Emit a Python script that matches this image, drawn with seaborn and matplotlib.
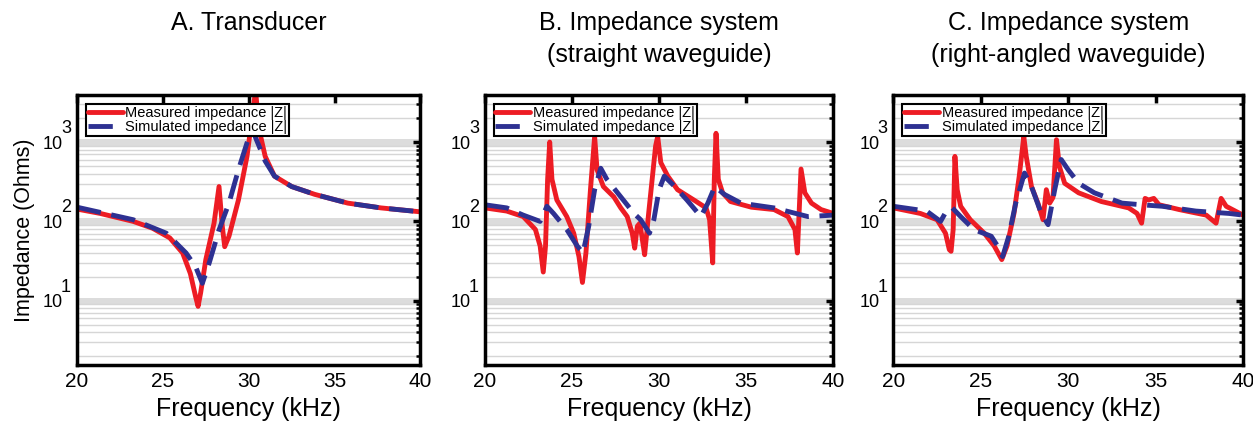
import numpy as np
import pandas as pd
import seaborn as sns
import matplotlib.pyplot as plt
from matplotlib.ticker import LogLocator, FuncFormatter, NullFormatter, MultipleLocator

# --- data (frequency in kHz, |Z| in Ohms) ---
freq_a_meas = [20.0, 21.35, 23.27, 24.4, 25.4, 26.15, 26.6, 26.9, 27.05, 27.2, 27.5, 27.98, 28.27,
               28.46, 28.6, 28.85, 29.4, 29.9, 30.2, 30.4, 30.6, 30.96, 31.5, 32.5, 33.85, 35.77, 37.7, 40.0]
z_a_meas = [143, 126, 100, 82, 62, 40, 22, 11.4, 8.5, 12.6, 33, 95, 275,
            87, 48, 65, 186, 660, 2090, 4470, 1450, 660, 372, 275, 219, 170, 148, 132]
freq_a_sim = [20.0, 23.27, 25.2, 26.35, 26.9, 27.3, 27.7, 28.27, 28.85, 29.4, 29.9, 30.2, 30.6,
              30.96, 31.5, 32.5, 33.85, 35.77, 37.7, 40.0]
z_a_sim = [151, 105, 71, 40, 27, 16.6, 30, 78, 170, 447, 977, 1445, 891,
           575, 372, 275, 219, 170, 148, 132]

freq_b_meas = [20.0, 21.25, 22.2, 22.9, 23.17, 23.35, 23.48, 23.6, 23.72, 23.85, 24.13, 24.7, 25.1,
               25.4, 25.6, 25.8, 26.06, 26.3, 26.44, 26.8, 27.4, 27.8, 28.17, 28.46, 28.6, 28.75,
               28.9, 29.04, 29.17, 29.4, 29.8, 29.92, 30.1, 30.5, 31.06, 32.0, 32.7, 32.9, 33.08,
               33.17, 33.27, 33.4, 33.65, 34.1, 35.3, 36.6, 37.4, 37.8, 37.94, 38.08, 38.15, 38.37,
               38.75, 39.3, 40.0]
z_b_meas = [148, 135, 115, 79, 49, 23, 49, 339, 1000, 339, 186, 115, 71,
            36, 17, 40, 251, 1175, 447, 275, 204, 148, 115, 71, 46, 87,
            95, 59, 38, 126, 891, 1175, 550, 372, 251, 186, 148, 105, 30,
            339, 1290, 339, 229, 178, 151, 141, 115, 79, 40, 204, 457, 229,
            170, 141, 126]
freq_b_sim = [20.0, 21.25, 22.2, 23.17, 23.56, 23.94, 24.7, 25.3, 25.63, 25.96, 26.3, 26.65, 27.0,
              27.8, 28.56, 28.94, 29.45, 29.7, 30.0, 30.3, 30.9, 31.6, 32.4, 32.8, 33.2, 33.75,
              34.7, 36.6, 38.55, 40.0]
z_b_sim = [162, 148, 120, 100, 155, 126, 79, 49, 40, 87, 251, 468, 339,
           204, 126, 105, 71, 105, 251, 372, 275, 186, 115, 170, 275, 219,
           170, 148, 115, 120]

freq_c_meas = [20.0, 21.54, 22.5, 22.98, 23.2, 23.3, 23.42, 23.52, 23.65, 23.85, 24.4, 25.2, 25.77,
               26.2, 26.5, 26.9, 27.2, 27.46, 27.6, 27.9, 28.27, 28.56, 28.75, 28.94, 29.13, 29.33,
               29.5, 29.8, 30.6, 31.9, 33.46, 33.94, 34.2, 34.4, 34.6, 34.9, 35.2, 36.35, 37.9,
               38.46, 38.75, 39.04, 40.0]
z_c_meas = [148, 126, 105, 71, 44, 42, 79, 660, 251, 155, 105, 71, 49,
            33, 49, 126, 372, 1175, 660, 275, 170, 105, 251, 170, 200, 1070,
            490, 302, 229, 178, 148, 126, 95, 195, 186, 195, 162, 141, 120,
            95, 195, 155, 120]
freq_c_sim = [20.0, 21.9, 22.7, 23.08, 23.37, 23.85, 24.6, 25.6, 25.96, 26.25, 26.6, 27.0, 27.5,
              27.9, 28.46, 28.85, 29.23, 29.6, 30.0, 30.6, 31.5, 33.08, 34.2, 35.4, 37.3, 39.2, 40.0]
z_c_sim = [155, 135, 100, 141, 148, 115, 79, 65, 49, 36, 65, 170, 407,
           275, 126, 91, 251, 603, 447, 302, 229, 170, 162, 155, 135, 126, 120]

titles = ["A. Transducer", "B. Impedance system\n(straight waveguide)",
          "C. Impedance system\n(right-angled waveguide)"]
decades = [1, 2, 3]
series = [(freq_a_meas, z_a_meas, freq_a_sim, z_a_sim),
          (freq_b_meas, z_b_meas, freq_b_sim, z_b_sim),
          (freq_c_meas, z_c_meas, freq_c_sim, z_c_sim)]

sns.set_style("white")
plt.rcParams['font.family'] = ['Liberation Sans', 'DejaVu Sans']
for key in ['text.color', 'axes.labelcolor', 'xtick.color', 'ytick.color']:
    plt.rcParams[key] = 'black'

red = '#ed1c24'
blue = '#2e3192'

fig = plt.figure(figsize=(12.53, 4.21), dpi=100)
lefts = [0.0615, 0.387, 0.713]
widths = [0.274, 0.278, 0.279]

for i, (fm, zm, fs, zs) in enumerate(series):
    ax = fig.add_axes([lefts[i], 0.133, widths[i], 0.641])
    meas = pd.DataFrame({"freq": fm, "z": zm})
    sim = pd.DataFrame({"freq": fs, "z": zs})
    sns.lineplot(data=meas, x="freq", y="z", ax=ax, color=red, linewidth=3.5,
                 label="Measured impedance |Z|", estimator=None, sort=False,
                 solid_joinstyle='round', solid_capstyle='round')
    sns.lineplot(data=sim, x="freq", y="z", ax=ax, color=blue, linewidth=3.5,
                 linestyle=(0, (5, 2.2)), label="Simulated impedance |Z|",
                 estimator=None, sort=False, dash_joinstyle='round')
    ax.set_yscale('log')
    ax.set_xlim(20, 40)
    ax.set_ylim(1.55, 3900)
    ax.xaxis.set_major_locator(MultipleLocator(5))
    ax.yaxis.set_major_locator(LogLocator(base=10))
    ax.yaxis.set_major_formatter(FuncFormatter(lambda v, p: "10"))
    ax.yaxis.set_minor_locator(LogLocator(base=10, subs=np.arange(2, 10)))
    ax.yaxis.set_minor_formatter(NullFormatter())

    ax.grid(True, which='major', axis='y', color='#dcdcdc', linewidth=5, zorder=0)
    ax.grid(True, which='minor', axis='y', color='#d6d6d6', linewidth=1, zorder=0)
    ax.set_axisbelow(True)

    for sp in ax.spines.values():
        sp.set_linewidth(2.5)
        sp.set_color('black')
    ax.tick_params(axis='x', which='major', direction='in', top=True, length=6, width=2.5,
                   labelsize=15, pad=5)
    ax.tick_params(axis='y', which='major', direction='in', right=True, length=5, width=2.5,
                   labelsize=13, pad=10)
    ax.tick_params(axis='y', which='minor', direction='in', right=True, length=3, width=1.8)

    # exponents of the decade labels, drawn MATLAB-style above "10"
    for k in decades:
        ax.annotate(str(k), xy=(0, 10 ** k), xycoords=('axes fraction', 'data'),
                    xytext=(-11.5, 6.5), textcoords='offset points', ha='left',
                    va='baseline', fontsize=13)

    ax.set_xlabel("Frequency (kHz)", fontsize=18, labelpad=4)
    if i == 0:
        ax.set_ylabel("Impedance (Ohms)", fontsize=15.5, labelpad=6)
    else:
        ax.set_ylabel("")
    ax.text(0.5, 1.31, titles[i], transform=ax.transAxes, ha='center', va='top',
            fontsize=18, linespacing=1.4)

    leg = ax.legend(loc='upper left', frameon=True, fancybox=False, edgecolor='black',
                    framealpha=1, fontsize=10.5, handlelength=2.4, borderpad=0.12,
                    labelspacing=0.05, handletextpad=0.2, borderaxespad=0.6)
    leg.get_frame().set_linewidth(1.5)

plt.savefig('out.png', dpi=100)
